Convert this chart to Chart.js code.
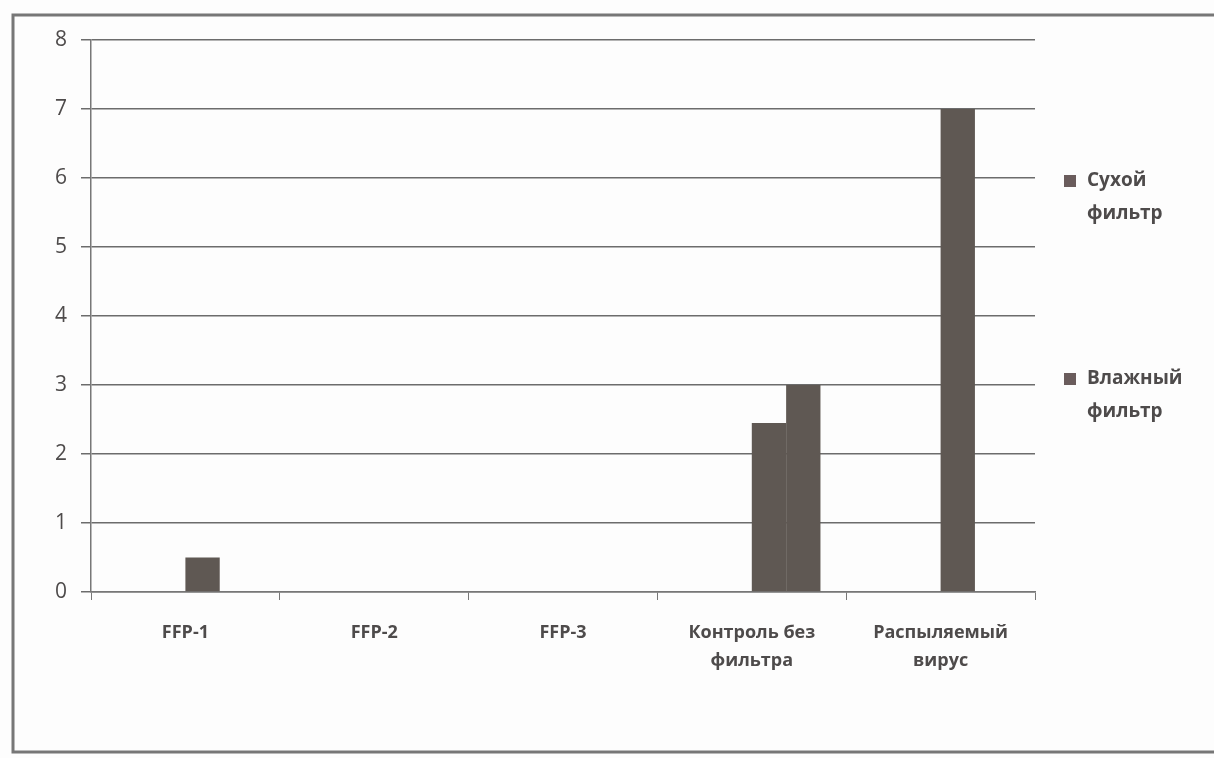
<!DOCTYPE html>
<html>
<head>
<meta charset="utf-8">
<script src="https://cdn.jsdelivr.net/npm/chart.js@4"></script>
<style>
  html, body { margin: 0; padding: 0; background: #fdfdfd; }
  #wrap { width: 1214px; height: 758px; }
</style>
</head>
<body>
<div id="wrap"><canvas id="chart"></canvas></div>
<script>
const categories = ['FFP-1', 'FFP-2', 'FFP-3', ['Контроль без', 'фильтра'], ['Распыляемый', 'вирус']];
const seriesNames = [['Сухой', 'фильтр'], ['Влажный', 'фильтр']];
const dryValues = [0.5, 0, 0, 2.45, 7.0];
const wetValues = [0, 0, 0, 3.0, 0];
// two empty series in the original workbook take up the left half of each group
const emptyValues = [null, null, null, null, null];
const yTicks = [0, 1, 2, 3, 4, 5, 6, 7, 8];

const barColor = '#5f5853';
const textColor = '#4e4b4b';
const fontFamily = '"Open Sans", Lato, sans-serif';

const framePlugin = {
    id: 'frame',
    beforeDraw(chart) {
        const c = chart.ctx;
        c.save();
        c.fillStyle = '#fdfdfd';
        c.fillRect(0, 0, chart.width, chart.height);
        c.strokeStyle = '#777';
        c.lineWidth = 3;
        c.strokeRect(13, 15, chart.width + 20, 737);
        c.restore();
    }
};

const legendPlugin = {
    id: 'sideLegend',
    afterDraw(chart) {
        const c = chart.ctx;
        const tops = [181, 379];
        c.save();
        c.font = 'bold 19px ' + fontFamily;
        c.textBaseline = 'middle';
        seriesNames.forEach((name, i) => {
            c.fillStyle = '#6a5c5c';
            c.fillRect(1064, tops[i] - 6, 12, 12);
            c.fillStyle = textColor;
            name.forEach((line, j) => c.fillText(line, 1087, tops[i] + j * 33));
        });
        c.restore();
    }
};

new Chart(document.getElementById('chart'), {
    type: 'bar',
    data: {
        labels: categories,
        datasets: [
            { label: '', data: emptyValues, backgroundColor: barColor },
            { label: '', data: emptyValues, backgroundColor: barColor },
            { label: seriesNames[0].join(' '), data: dryValues, backgroundColor: barColor },
            { label: seriesNames[1].join(' '), data: wetValues, backgroundColor: barColor }
        ]
    },
    options: {
        responsive: true,
        maintainAspectRatio: false,
        animation: false,
        categoryPercentage: 4 / 5.5,
        barPercentage: 1.0,
        layout: { padding: { left: 2, right: 179, top: 40, bottom: 0 } },
        plugins: {
            legend: { display: false },
            tooltip: { enabled: false }
        },
        scales: {
            y: {
                min: 0,
                max: 8,
                afterBuildTicks: (scale) => { scale.ticks = yTicks.map(v => ({ value: v })); },
                afterFit: (scale) => { scale.width = 89; },
                ticks: {
                    color: textColor,
                    padding: 14,
                    font: { family: fontFamily, size: 21 }
                },
                grid: { color: '#6c6c6c', lineWidth: 1.5, tickLength: 10 },
                border: { color: '#777', width: 1.5 }
            },
            x: {
                afterFit: (scale) => { scale.height = 758 - 40 - 552; },
                ticks: {
                    color: textColor,
                    padding: 19,
                    maxRotation: 0,
                    font: { family: fontFamily, size: 18, weight: 'bold', lineHeight: 1.55 }
                },
                grid: { offset: true, drawOnChartArea: false, color: '#777', tickLength: 8 },
                border: { color: '#777', width: 1.5 }
            }
        }
    },
    plugins: [framePlugin, legendPlugin]
});
</script>
</body>
</html>
